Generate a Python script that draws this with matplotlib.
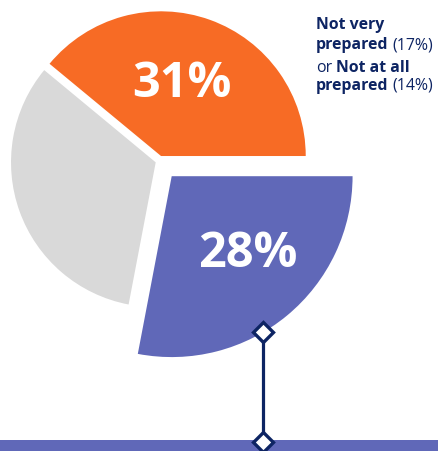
import numpy as np
import matplotlib.pyplot as plt

plt.rcParams['font.family'] = ['Open Sans', 'DejaVu Sans']

# slice shares as drawn (share of the circle), labels printed on slices
slice_names = ['Not very / not at all prepared', 'Other', 'Highlighted']
slice_share = [39, 33, 28]
slice_labels = ['31%', '', '28%']
colors = ['#F76B25', '#D9D9D9', '#6068B8']
navy = '#0D2463'

# side note lines: (bold part, normal part, bold first?)
note_lines = [('Not very', '', True),
              ('prepared', '(17%)', True),
              ('Not at all', 'or', False),
              ('prepared', '(14%)', True)]

fig = plt.figure(figsize=(4.38, 4.52), dpi=100)
ax = fig.add_axes([0, 0, 1, 1])

R = 144.7
explode = [5.4, 3.7, 19.6]
wedges, _ = ax.pie(slice_share, colors=colors, startangle=0, counterclock=True,
                   explode=explode, radius=R, center=(159.2, 289.9), frame=True)
# highlighted slice is drawn bigger
wedges[2].set_radius(1.25 * R)

ax.set_aspect('equal')
ax.set_xlim(0, 438)
ax.set_ylim(0, 452)
ax.axis('off')

# percentage labels inside slices
lab_dist = [0.52, 0, 0.6]
lab_turn = [4, 0, 5]
for w, lab, d, t in zip(wedges, slice_labels, lab_dist, lab_turn):
    if not lab:
        continue
    th = np.deg2rad((w.theta1 + w.theta2) / 2 + t)
    cx, cy = w.center
    ax.text(cx + d * w.r * np.cos(th), cy + d * w.r * np.sin(th), lab,
            color='white', fontsize=35, fontweight='bold',
            ha='center', va='center')

# connector from the highlighted slice down to the bottom band
ax.axhspan(0, 11, color=colors[2], lw=0)
bw = wedges[2]
th = np.deg2rad(-59.5)
px = bw.center[0] + bw.r * np.cos(th)
py = bw.center[1] + bw.r * np.sin(th)
ax.plot([px, px], [py, 9], color=navy, lw=2.3, zorder=4)
ax.plot([px, px], [py, 9], ls='', marker='D', ms=10.5, mfc='white',
        mec=navy, mew=2.4, zorder=5)

# side note with mixed bold / normal runs
fig.canvas.draw()
rend = fig.canvas.get_renderer()
x0 = 316
base_y = [422.7, 403, 380, 362]
for (bold, normal, bold_first), y in zip(note_lines, base_y):
    parts = [(bold, 'bold'), (normal, 'normal')] if bold_first else \
            [(normal, 'normal'), (bold, 'bold')]
    x = x0
    for txt, wt in parts:
        if not txt:
            continue
        t = ax.text(x, y, txt, fontsize=11.4, fontweight=wt, color=navy,
                    va='baseline', ha='left')
        x += t.get_window_extent(rend).width + 4

fig.savefig('out.png', dpi=100)
